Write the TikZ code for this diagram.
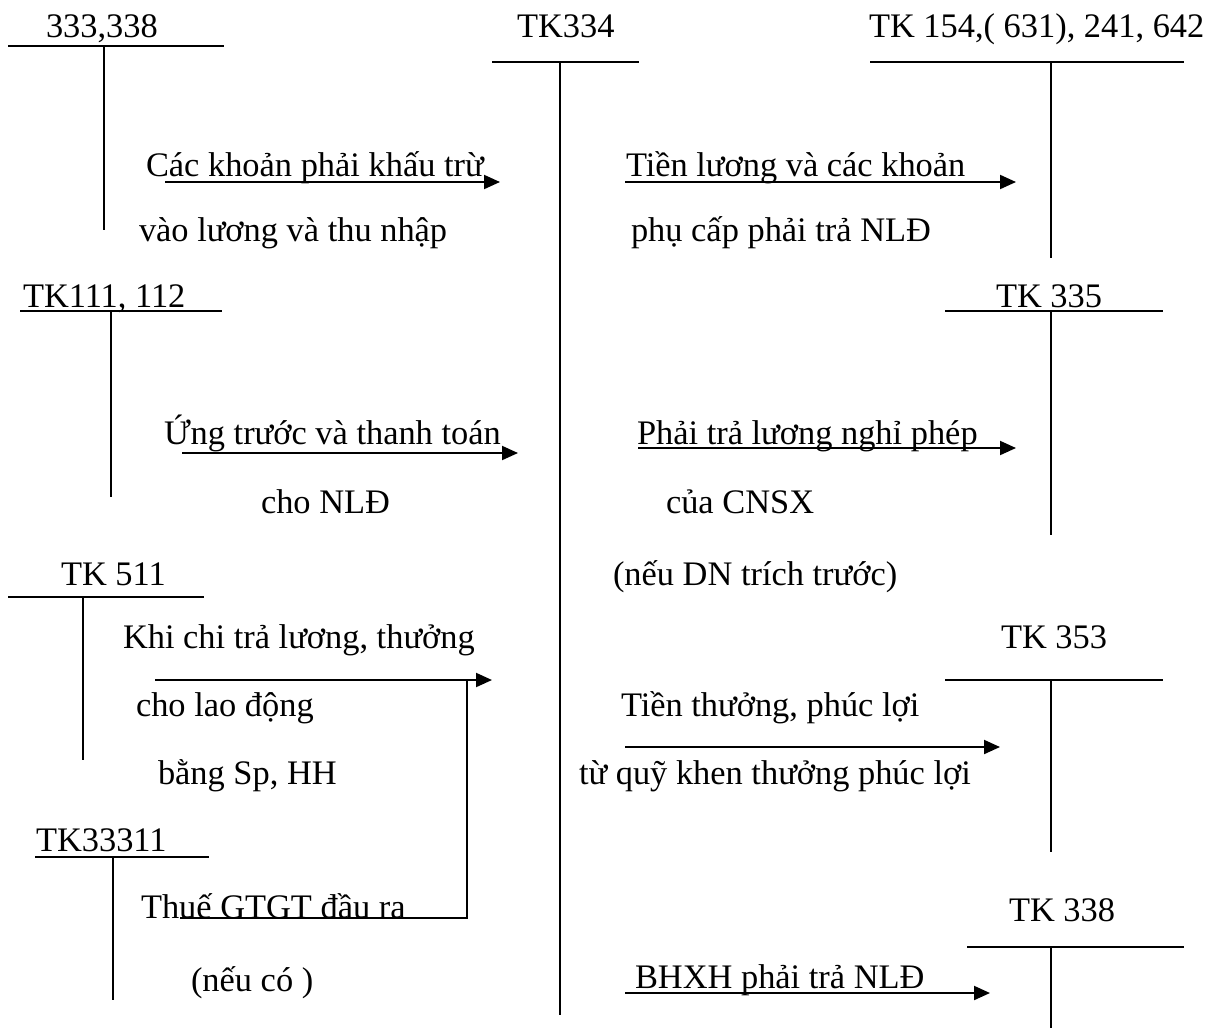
\documentclass[tikz,border=0pt]{standalone}
\usepackage{fontspec}
\setmainfont{Liberation Serif}
\usetikzlibrary{arrows.meta}
\begin{document}
\begin{tikzpicture}[x=0.5pt,y=-0.5pt,line width=1pt,
  lbl/.style={anchor=base west,inner sep=0pt,font=\fontsize{17.2}{20}\selectfont},
  flow/.style={-{Triangle[length=8pt,width=7pt]}}]
\useasboundingbox (0,0) rectangle (1213,1028);

% ---- account titles ----
\node[lbl] (a333) at (45,37) {333,338};
\node[lbl] (a334) at (516,37) {TK334};
\node[lbl] (a154) at (868,37) {TK 154,( 631), 241, 642};
\node[lbl] (a111) at (22,307) {TK111, 112};
\node[lbl] (a335) at (995,307) {TK 335};
\node[lbl] (a511) at (60,585) {TK 511};
\node[lbl] (a353) at (1000,648) {TK 353};
\node[lbl] (a33311) at (35,851) {TK33311};
\node[lbl] (a338) at (1008,921) {TK 338};

% ---- T-account rules ----
\draw (8,46) -- (224,46) (104,46) -- (104,230);
\draw (492,62) -- (639,62) (560,62) -- (560,1015);
\draw (870,62) -- (1184,62) (1051,62) -- (1051,258);
\draw (20,311) -- (222,311) (111,311) -- (111,497);
\draw (945,311) -- (1163,311) (1051,311) -- (1051,535);
\draw (8,597) -- (204,597) (83,597) -- (83,760);
\draw (945,680) -- (1163,680) (1051,680) -- (1051,852);
\draw (35,857) -- (209,857) (113,857) -- (113,1000);
\draw (967,947) -- (1184,947) (1051,947) -- (1051,1028);

% ---- transaction texts ----
\node[lbl] (t1a) at (145,176) {Các khoản phải khấu trừ};
\node[lbl] (t1b) at (138,241) {vào lương và thu nhập};
\node[lbl] (t2a) at (625,176) {Tiền lương và các khoản};
\node[lbl] (t2b) at (630,241) {phụ cấp phải trả NLĐ};
\node[lbl] (t3a) at (163,444) {Ứng trước và thanh toán};
\node[lbl] (t3b) at (260,513) {cho NLĐ};
\node[lbl] (t4a) at (636,444) {Phải trả lương nghỉ phép};
\node[lbl] (t4b) at (665,513) {của CNSX};
\node[lbl] (t4c) at (612,585) {(nếu DN trích trước)};
\node[lbl] (t5a) at (122,648) {Khi chi trả lương, thưởng};
\node[lbl] (t5b) at (135,716) {cho lao động};
\node[lbl] (t5c) at (157,784) {bằng Sp, HH};
\node[lbl] (t6a) at (620,716) {Tiền thưởng, phúc lợi};
\node[lbl] (t6b) at (578,784) {từ quỹ khen thưởng phúc lợi};
\node[lbl] (t7a) at (140,918) {Thuế GTGT đầu ra};
\node[lbl] (t7b) at (190,991) {(nếu có )};
\node[lbl] (t8a) at (634,988) {BHXH phải trả NLĐ};

% ---- flow arrows ----
\coordinate (f1s) at (165,182);  \coordinate (f1e) at (500,182);
\coordinate (f2s) at (625,182);  \coordinate (f2e) at (1016,182);
\coordinate (f3s) at (182,453);  \coordinate (f3e) at (518,453);
\coordinate (f4s) at (638,448);  \coordinate (f4e) at (1016,448);
\coordinate (f5s) at (155,680);  \coordinate (f5e) at (492,680);
\coordinate (f6s) at (625,747);  \coordinate (f6e) at (1000,747);
\coordinate (f7s) at (180,918);  \coordinate (f7c) at (467,918);
\coordinate (f7t) at (467,680);
\coordinate (f8s) at (625,993);  \coordinate (f8e) at (990,993);

\draw[flow] (f1s) -- (f1e);
\draw[flow] (f2s) -- (f2e);
\draw[flow] (f3s) -- (f3e);
\draw[flow] (f4s) -- (f4e);
\draw[flow] (f5s) -- (f5e);
\draw (f7s) -- (f7c) -- (f7t);
\draw[flow] (f6s) -- (f6e);
\draw[flow] (f8s) -- (f8e);
\end{tikzpicture}
\end{document}
